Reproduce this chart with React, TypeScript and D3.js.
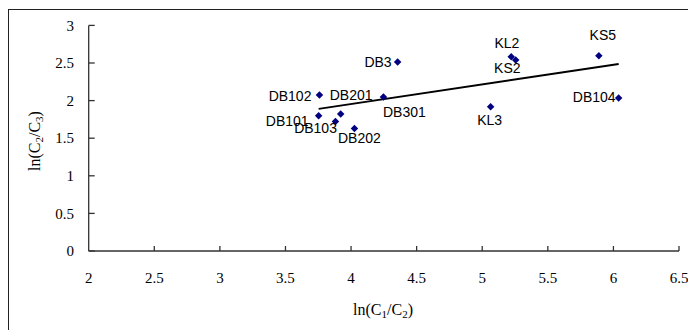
import React from "react";
import * as d3 from "d3";

// sample names and their coordinates
const names = ["DB102", "DB101", "DB201", "DB103", "DB202", "DB301", "DB3", "KL2", "KS2", "KS5", "DB104", "KL3"];
const lnC1C2 = [3.759, 3.753, 3.921, 3.881, 4.026, 4.247, 4.355, 5.221, 5.255, 5.889, 6.04, 5.064];
const lnC2C3 = [2.074, 1.799, 1.822, 1.722, 1.629, 2.048, 2.513, 2.584, 2.54, 2.597, 2.035, 1.919];

// linear trend line end points
const trendX = [3.753, 6.04];
const trendY = [1.89, 2.487];

const xTicks = [2, 2.5, 3, 3.5, 4, 4.5, 5, 5.5, 6, 6.5];
const yTicks = [0, 0.5, 1, 1.5, 2, 2.5, 3];

// label placement: text-anchor, dx, dy (pixels from the marker)
const labelPos: [string, number, number][] = [
  ["end", -8, 1],
  ["end", -10, 5],
  ["start", -11, -19],
  ["end", 1.5, 6.5],
  ["start", -16.5, 9.5],
  ["start", -0.5, 15],
  ["end", -6, 0],
  ["middle", -4.3, -14],
  ["middle", -8.4, 8.3],
  ["middle", 4, -21],
  ["end", -3, -1],
  ["middle", -1, 13.3],
];

const W = 688;
const H = 330;
const x = d3.scaleLinear().domain([2, 6.5]).range([88.7, 679]);
const y = d3.scaleLinear().domain([0, 3]).range([251, 25.4]);

const serif = "'Liberation Serif', 'Times New Roman', serif";
const sans = "'Liberation Sans', Arial, sans-serif";
const axisColor = "#333";

export default function App() {
  const pts = names.map((n, i) => ({ name: n, x: lnC1C2[i], y: lnC2C3[i], pos: labelPos[i] }));
  const line = d3.line<number>().x((d, i) => x(trendX[i])).y((d, i) => y(trendY[i]));
  // square turned 45 degrees, like the Excel diamond marker
  const diamond = d3.symbol(d3.symbolSquare, 28)();

  return (
    <svg width={W} height={H} style={{ position: "absolute", left: 0, top: 0, background: "#fff" }}>
      <rect x={8.5} y={9.5} width={W + 20} height={H + 20} fill="#fff" stroke="#222" strokeWidth={1} />

      {/* axes */}
      <line x1={x(2)} x2={x(2)} y1={y(3)} y2={y(0)} stroke={axisColor} strokeWidth={1.3} />
      <line x1={x(2)} x2={x(6.5)} y1={y(0)} y2={y(0)} stroke={axisColor} strokeWidth={1.3} />
      {yTicks.map((t) => (
        <g key={"y" + t}>
          <line x1={x(2)} x2={x(2) + 6} y1={y(t)} y2={y(t)} stroke={axisColor} strokeWidth={1.3} />
          <text x={74} y={y(t)} dy="0.35em" textAnchor="end" fontFamily={serif} fontSize={15}>
            {t}
          </text>
        </g>
      ))}
      {xTicks.map((t) => (
        <g key={"x" + t}>
          {t > 2 && <line x1={x(t)} x2={x(t)} y1={y(0)} y2={y(0) - 5} stroke={axisColor} strokeWidth={1.3} />}
          <text x={x(t)} y={278} dy="0.35em" textAnchor="middle" fontFamily={serif} fontSize={15}>
            {t}
          </text>
        </g>
      ))}

      {/* axis titles */}
      <text x={383} y={315} textAnchor="middle" fontFamily={serif} fontSize={16}>
        ln(C<tspan fontSize={11} dy={3}>1</tspan>
        <tspan dy={-3}>/C</tspan>
        <tspan fontSize={11} dy={3}>2</tspan>
        <tspan dy={-3}>)</tspan>
      </text>
      <text transform="translate(40,141) rotate(-90)" textAnchor="middle" fontFamily={serif} fontSize={16}>
        ln(C<tspan fontSize={11} dy={3}>2</tspan>
        <tspan dy={-3}>/C</tspan>
        <tspan fontSize={11} dy={3}>3</tspan>
        <tspan dy={-3}>)</tspan>
      </text>

      {/* trend line */}
      <path d={line([0, 1]) || ""} fill="none" stroke="#000" strokeWidth={2} />

      {/* points */}
      {pts.map((p) => (
        <path
          key={p.name}
          d={diamond || ""}
          transform={`translate(${x(p.x)},${y(p.y)}) rotate(45)`}
          fill="#000080"
        />
      ))}
      {pts.map((p) => (
        <text
          key={"l" + p.name}
          x={x(p.x) + p.pos[1]}
          y={y(p.y) + p.pos[2]}
          dy="0.35em"
          textAnchor={p.pos[0] as any}
          fontFamily={sans}
          fontSize={14}
          fill="#000"
        >
          {p.name}
        </text>
      ))}
    </svg>
  );
}
